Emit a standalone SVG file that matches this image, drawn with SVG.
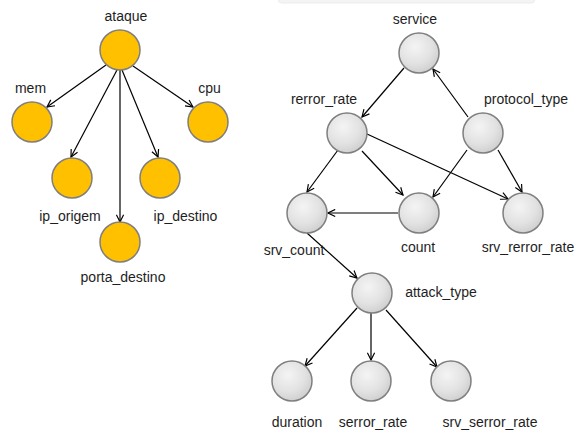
<svg xmlns="http://www.w3.org/2000/svg" width="582" height="433" viewBox="0 0 582 433">
  <style>
    .lbl { font-family: "Liberation Sans", Arial, sans-serif; font-size: 14px; fill: #1e1e1e; text-anchor: middle; }
    .orange { fill: #FFC000; stroke: #7f7f7f; stroke-width: 1.5; }
    .grey { fill: url(#greyGrad); stroke: #7f7f7f; stroke-width: 1.5; }
    .edge { stroke: #000; stroke-width: 1.2; fill: none; marker-end: url(#arrow); }
  </style>
  <defs>
    <radialGradient id="greyGrad" cx="0.4" cy="0.35" r="0.7">
      <stop offset="0" stop-color="#f4f4f4"/>
      <stop offset="0.6" stop-color="#e2e2e2"/>
      <stop offset="1" stop-color="#cdcdcd"/>
    </radialGradient>
    <marker id="arrow" viewBox="0 0 10 10" refX="9" refY="5" markerWidth="9" markerHeight="9" markerUnits="userSpaceOnUse" orient="auto">
      <path d="M1,1 L9,5 L1,9" fill="none" stroke="#000" stroke-width="1.3"/>
    </marker>
  </defs>

  <rect width="582" height="433" fill="#ffffff"/>
  <!-- faint banner strip at the top edge -->
  <rect x="278" y="-12" width="257" height="15" rx="4" fill="#f4f4f4" stroke="#ececec" stroke-width="1"/>

  <g id="connectors">
    <line class="edge" x1="106" y1="65" x2="47" y2="107"/>
    <line class="edge" x1="133" y1="66" x2="193" y2="107"/>
    <line class="edge" x1="117" y1="70" x2="71" y2="157"/>
    <line class="edge" x1="120" y1="70" x2="120" y2="222"/>
    <line class="edge" x1="122" y1="70" x2="158" y2="157"/>

    <line class="edge" x1="404" y1="68" x2="362" y2="117"/>
    <line class="edge" x1="468" y1="117" x2="433" y2="69"/>
    <line class="edge" x1="338" y1="150" x2="307" y2="192"/>
    <line class="edge" x1="362" y1="151" x2="403" y2="195"/>
    <line class="edge" x1="367" y1="134" x2="508" y2="199"/>
    <line class="edge" x1="467" y1="150" x2="433" y2="197"/>
    <line class="edge" x1="498" y1="150" x2="522" y2="192"/>
    <line class="edge" x1="398" y1="213" x2="328" y2="213"/>
    <line class="edge" x1="307" y1="233" x2="357" y2="278"/>
    <line class="edge" x1="357" y1="308" x2="305" y2="366"/>
    <line class="edge" x1="371" y1="313" x2="371" y2="360"/>
    <line class="edge" x1="386" y1="310" x2="437" y2="367"/>
  </g>

  <g id="ataque"><circle class="orange" cx="120" cy="50" r="20"/><text class="lbl" x="126" y="21">ataque</text></g>
  <g id="mem"><circle class="orange" cx="32" cy="122" r="20"/><text class="lbl" x="30.5" y="93">mem</text></g>
  <g id="cpu"><circle class="orange" cx="208" cy="122" r="20"/><text class="lbl" x="209.5" y="93">cpu</text></g>
  <g id="ip_origem"><circle class="orange" cx="72" cy="178" r="20"/><text class="lbl" x="70" y="221">ip_origem</text></g>
  <g id="ip_destino"><circle class="orange" cx="160" cy="178" r="20"/><text class="lbl" x="185.5" y="221">ip_destino</text></g>
  <g id="porta_destino"><circle class="orange" cx="120" cy="242" r="20"/><text class="lbl" x="123" y="282">porta_destino</text></g>

  <g id="service"><circle class="grey" cx="419" cy="53" r="20"/><text class="lbl" x="415" y="24">service</text></g>
  <g id="rerror_rate"><circle class="grey" cx="347" cy="133" r="20"/><text class="lbl" x="324" y="104">rerror_rate</text></g>
  <g id="protocol_type"><circle class="grey" cx="483" cy="133" r="20"/><text class="lbl" x="526" y="104">protocol_type</text></g>
  <g id="srv_count"><circle class="grey" cx="307" cy="213" r="20"/><text class="lbl" x="294" y="255">srv_count</text></g>
  <g id="count"><circle class="grey" cx="419" cy="213" r="20"/><text class="lbl" x="418" y="252">count</text></g>
  <g id="srv_rerror_rate"><circle class="grey" cx="523" cy="213" r="20"/><text class="lbl" x="528" y="252">srv_rerror_rate</text></g>
  <g id="attack_type"><circle class="grey" cx="372" cy="293" r="20"/><text class="lbl" x="441" y="297">attack_type</text></g>
  <g id="duration"><circle class="grey" cx="292" cy="381" r="20"/><text class="lbl" x="297" y="427">duration</text></g>
  <g id="serror_rate"><circle class="grey" cx="371" cy="381" r="20"/><text class="lbl" x="373" y="427">serror_rate</text></g>
  <g id="srv_serror_rate"><circle class="grey" cx="451" cy="381" r="20"/><text class="lbl" x="490" y="427">srv_serror_rate</text></g>
</svg>
